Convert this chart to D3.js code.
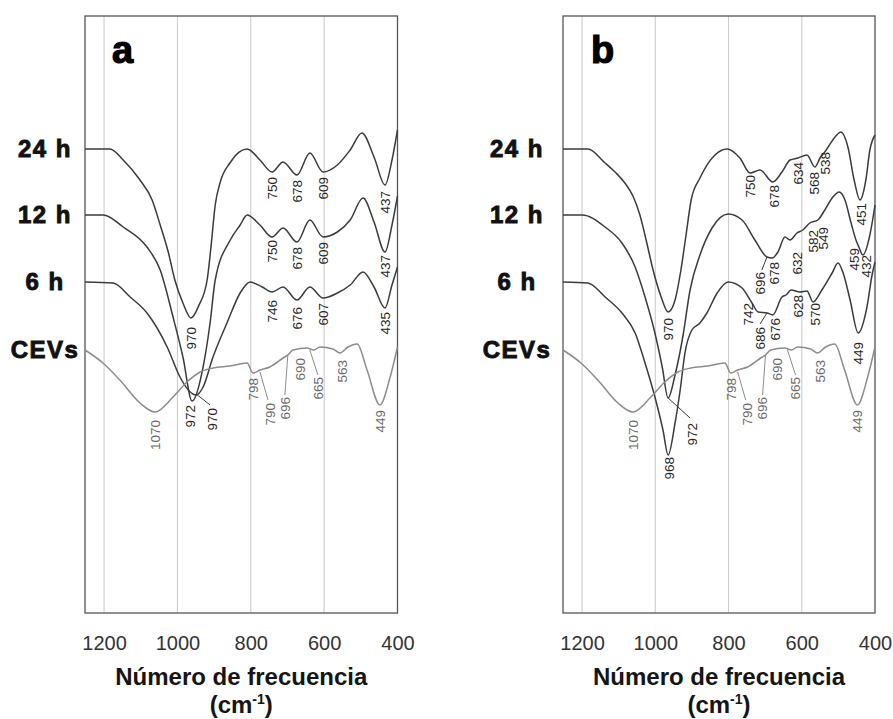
<!DOCTYPE html>
<html><head><meta charset="utf-8">
<script src="https://cdn.jsdelivr.net/npm/d3@7/dist/d3.min.js"></script>
<style>body{margin:0;background:#fff} svg{display:block}</style>
</head><body>
<svg id="c" width="893" height="719"></svg>
<script>
// ---------- data ----------
const rowNames = ["24 h", "12 h", "6 h", "CEVs"];
const panelLetters = ["a", "b"];
const xTicks = [1200, 1000, 800, 600, 400];
const gridTicks = [1200, 1000, 800, 600];
const xTitle = "Número de frecuencia";

// spectra: [wavenumber, relative intensity]
const cevs = [[1252,263],[1203,250],[1157,233],[1102,210],[1061,201],[1012,216],[974,231],[938,241],[903,245],[857,247],[810,250],[794,240],[775,243],[748,246],[712,255],[699,258],[685,263],[647,265],[628,263],[611,266],[576,264],[557,260],[535,266],[510,269],[483,243],[448,208],[420,236],[400,266]];

const a24 = [[1252,464],[1184,464],[1148,453],[1102,433],[1069,413],[1047,388],[1025,361],[1007,333],[985,310],[963,295],[941,308],[919,333],[908,368],[897,408],[884,430],[857,450],[810,464],[775,453],[742,441],[712,451],[674,438],[639,460],[603,441],[564,448],[529,463],[497,480],[464,456],[434,428],[415,453],[400,483]];
const a12 = [[1252,398],[1202,398],[1148,386],[1083,366],[1047,343],[1012,296],[985,256],[960,212],[930,246],[911,290],[897,333],[856,373],[829,388],[810,398],[775,388],[742,376],[712,385],[674,371],[639,393],[603,376],[564,381],[529,393],[494,415],[464,391],[434,361],[415,388],[400,417]];
const a6 = [[1252,331],[1175,330],[1129,316],[1083,300],[1028,266],[993,236],[968,222],[949,218],[930,226],[903,256],[865,290],[829,320],[802,331],[769,326],[742,321],[712,326],[674,313],[639,326],[603,315],[564,320],[529,328],[494,341],[464,326],[434,305],[415,328],[400,346]];

const b24 = [[1252,464],[1184,464],[1137,450],[1110,441],[1083,430],[1061,417],[1042,398],[1025,373],[1006,343],[984,316],[965,301],[946,313],[930,343],[916,378],[902,413],[878,435],[837,458],[804,464],[769,455],[741,440],[714,443],[679,431],[654,441],[632,453],[610,455],[586,458],[564,446],[550,455],[537,461],[509,476],[493,481],[474,466],[457,433],[441,413],[425,433],[414,463],[400,478]];
const b12 = [[1252,398],[1200,398],[1137,386],[1091,370],[1055,346],[1028,316],[1001,280],[981,246],[965,215],[946,238],[924,278],[905,323],[878,358],[845,385],[801,399],[763,393],[728,373],[695,356],[681,355],[665,361],[646,376],[632,373],[613,380],[597,383],[578,390],[556,393],[537,403],[515,416],[498,421],[482,413],[466,391],[452,373],[444,366],[433,358],[414,378],[400,408]];
const b6 = [[1252,331],[1184,330],[1137,316],[1091,300],[1055,280],[1028,250],[1001,216],[979,183],[965,158],[946,190],[932,223],[919,260],[900,283],[878,290],[859,300],[831,320],[801,331],[763,325],[736,310],[719,301],[695,300],[679,298],[654,316],[643,318],[629,323],[605,321],[586,322],[569,311],[545,323],[517,340],[501,350],[487,340],[468,313],[446,280],[422,306],[408,338],[400,351]];

// peak labels: [text, wavenumber, level, leaderFromWn, leaderFromLevel, leaderToWn, leaderToLevel]
const cevsLabels = [["1070",1061,193],["798",794,235],["790",748,210,775,241,753,213],["696",707,216,699,258,707,218],["690",666,255],["665",617,236,639,263,617,238],["563",551,253],["449",448,203]];
const a24Labels = [["970",963,286],["750",742,436],["678",674,433],["609",603,436],["437",434,422]];
const a12Labels = [["972",966,208],["750",742,373],["678",674,366],["609",603,371],["437",434,358]];
const a6Labels = [["970",906,205,949,219,911,208],["746",742,313],["676",674,306],["607",603,310],["435",434,301]];
const b24Labels = [["970",965,295],["750",741,438],["678",676,428],["634",610,451],["568",565,441],["538",536,461],["451",438,410]];
const b12Labels = [["972",900,190,965,215,905,195],["696",714,341,695,356,709,343],["678",676,351],["632",613,361],["582",570,383],["549",542,386],["459",458,365],["432",424,358]];
const b6Labels = [["968",963,156],["742",747,310],["686",714,286,695,300,714,289],["676",673,295],["628",610,318],["570",564,310],["449",446,271]];

// ---------- drawing ----------
const svg = d3.select("#c");
const plotTop = 16, plotBottom = 613;
const y = d3.scaleLinear().domain([0, 597]).range([plotBottom, plotTop]);

const panels = [
  {letter: panelLetters[0], x0: 85, x1: 397.5, rowX: 45, letterX: 112,
   series: [a24, a12, a6, cevs], labels: [a24Labels, a12Labels, a6Labels, cevsLabels]},
  {letter: panelLetters[1], x0: 563, x1: 875, rowX: 517, letterX: 591,
   series: [b24, b12, b6, cevs], labels: [b24Labels, b12Labels, b6Labels, cevsLabels]}
];

const dark = "#3b3b3b", light = "#8c8c8c";
const FONT = "'Liberation Sans', Arial, sans-serif";

panels.forEach(p => {
  const x = d3.scaleLinear().domain([1252, 400]).range([p.x0, p.x1]);
  const g = svg.append("g");

  // grid lines
  g.selectAll("line.grid").data(gridTicks).join("line").attr("class", "grid")
    .attr("x1", d => x(d)).attr("x2", d => x(d))
    .attr("y1", plotTop).attr("y2", plotBottom)
    .attr("stroke", "#cdcdcd").attr("stroke-width", 1.1);

  // frame
  g.append("rect").attr("x", p.x0).attr("y", plotTop)
    .attr("width", p.x1 - p.x0).attr("height", plotBottom - plotTop)
    .attr("fill", "none").attr("stroke", "#555").attr("stroke-width", 1.3);

  // x axis tick labels
  const ax = d3.axisBottom(x).tickValues(xTicks).tickSize(0).tickPadding(0).tickFormat(d3.format("d"));
  const axg = g.append("g").attr("transform", "translate(0, 636)").call(ax);
  axg.select(".domain").remove();
  axg.selectAll("text").attr("font-family", FONT)
    .attr("font-size", 20).attr("fill", "#333").attr("dy", "0.71em");

  // axis title
  const cx = (p.x0 + p.x1) / 2;
  g.append("text").attr("x", cx).attr("y", 685).attr("text-anchor", "middle")
    .attr("font-family", FONT).attr("font-weight", "bold")
    .attr("font-size", 24).attr("fill", "#151515").text(xTitle);
  const t2 = g.append("text").attr("x", cx).attr("y", 713).attr("text-anchor", "middle")
    .attr("font-family", FONT).attr("font-weight", "bold")
    .attr("font-size", 24).attr("fill", "#151515");
  t2.append("tspan").text("(cm");
  t2.append("tspan").attr("font-size", 14).attr("dy", -9).text("-1");
  t2.append("tspan").attr("dy", 9).text(")");

  // spectra
  const line = d3.line().x(d => x(d[0])).y(d => y(d[1])).curve(d3.curveMonotoneX);
  p.series.forEach((s, i) => {
    g.append("path").datum(s).attr("d", line).attr("fill", "none")
      .attr("stroke", i === 3 ? light : dark).attr("stroke-width", 1.5)
      .attr("stroke-linejoin", "round");
  });

  // peak labels + leaders
  p.labels.forEach((lab, i) => {
    const col = i === 3 ? "#6a6a6a" : "#262626";
    lab.forEach(l => {
      if (l.length > 3) {
        g.append("line").attr("x1", x(l[3])).attr("y1", y(l[4]))
          .attr("x2", x(l[5])).attr("y2", y(l[6]))
          .attr("stroke", i === 3 ? light : dark).attr("stroke-width", 1);
      }
      const lx = x(l[1]), ly = y(l[2]);
      g.append("text").attr("transform", `translate(${lx},${ly}) rotate(-90)`)
        .attr("text-anchor", "end").attr("dy", "0.36em")
        .attr("font-family", FONT)
        .attr("font-size", 13.5).attr("fill", col).text(l[0]);
    });
  });

  // row labels
  p.series.forEach((s, i) => {
    g.append("text").attr("x", p.rowX).attr("y", y(s[0][1]) + 8)
      .attr("text-anchor", "middle")
      .attr("font-family", FONT).attr("font-weight", "bold")
      .attr("font-size", 24).attr("letter-spacing", 1.5)
      .attr("fill", "#111").attr("stroke", "#111").attr("stroke-width", 0.9)
      .text(rowNames[i]);
  });

  // panel letter
  g.append("text").attr("x", p.letterX).attr("y", 63)
    .attr("font-family", FONT).attr("font-weight", "bold")
    .attr("font-size", 38).attr("fill", "#000").attr("stroke", "#000").attr("stroke-width", 1.2)
    .text(p.letter);
});
</script>
</body></html>
